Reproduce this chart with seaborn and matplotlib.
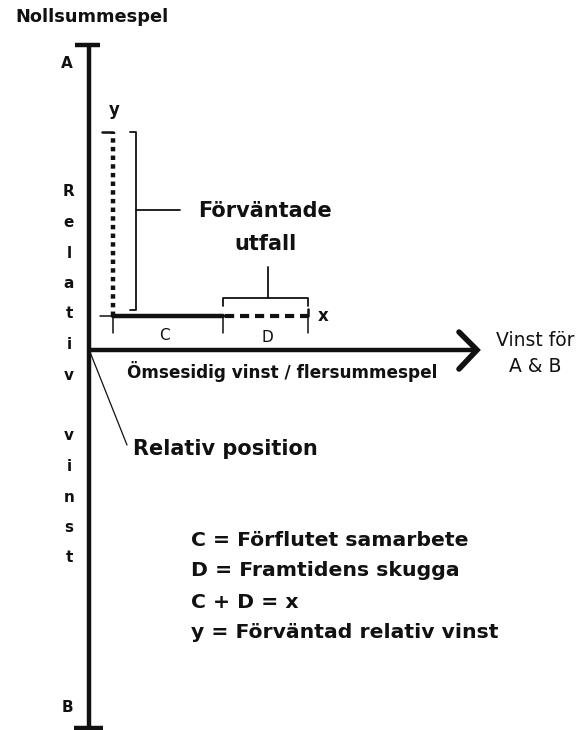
import matplotlib
matplotlib.use("Agg")
import matplotlib.pyplot as plt
import seaborn as sns

sns.set_theme(style="white")
plt.rcParams['font.family'] = ['DejaVu Sans']

# Geometri i bildpunkter (origo uppe till vänster)
origo = (89, 350)
axel_topp, axel_botten = 45, 729
pil_slut = 477
c_start, c_slut, d_slut = 113, 223, 308
xlinje_y = 316
y_topp = 132

# Texter
axel_etikett = "Relativ vinst"
legend_rader = ["C = Förflutet samarbete",
                "D = Framtidens skugga",
                "C + D = x",
                "y = Förväntad relativ vinst"]

fig = plt.figure(figsize=(5.82, 7.30), dpi=100)
ax = fig.add_axes([0, 0, 1, 1])
ax.set_xlim(0, 582)
ax.set_ylim(730, 0)
ax.axis("off")

svart = "#111111"
tjock = 3.2
tunn = 1.1

# vertikal axel med ändstreck
ax.plot([origo[0], origo[0]], [axel_topp, axel_botten], color=svart, lw=tjock, solid_capstyle="butt")
ax.plot([75, 100], [axel_topp, axel_topp], color=svart, lw=tjock, solid_capstyle="butt")
ax.plot([74, 103], [axel_botten - 1, axel_botten - 1], color=svart, lw=tjock, solid_capstyle="butt")

# horisontell pil
ax.plot([origo[0], pil_slut - 2], [origo[1], origo[1]], color=svart, lw=tjock, solid_capstyle="butt")
ax.plot([459, pil_slut, 459], [332, origo[1], 369], color=svart, lw=4, solid_joinstyle="miter")

# C (heldragen) och D (streckad)
sns.lineplot(x=[c_start, c_slut], y=[xlinje_y, xlinje_y], ax=ax, color=svart, lw=tjock,
             estimator=None, sort=False)
ax.plot([c_slut + 2, d_slut], [xlinje_y, xlinje_y], color=svart, lw=3,
        linestyle=(0, (2.2, 1.4)), solid_capstyle="butt")
ax.plot([100, c_start], [xlinje_y, xlinje_y], color=svart, lw=tunn)

# y (prickad)
ax.plot([c_start, c_start], [xlinje_y, y_topp], color=svart, lw=3.2, linestyle=(0, (1, 0.95)))
ax.plot([102, c_start], [y_topp, y_topp], color=svart, lw=1.8)

# streck under C och D
for xv in [c_start, c_slut, d_slut]:
    ax.plot([xv, xv], [xlinje_y, 333], color=svart, lw=tunn)
ax.plot([d_slut, d_slut], [xlinje_y - 7, xlinje_y], color=svart, lw=1.8)

# klammer för y
ax.plot([130, 136, 136, 130], [y_topp, y_topp, 310, 310], color=svart, lw=1.3)
ax.plot([136, 180], [210, 210], color=svart, lw=1.3)

# klammer för D
ax.plot([c_slut, c_slut, d_slut, d_slut], [306, 298, 298, 306], color=svart, lw=1.3)
ax.plot([268, 268], [298, 267], color=svart, lw=1.3)

# pekare till relativ position
ax.plot([origo[0] + 1, 127], [origo[1] + 2, 445], color=svart, lw=0.9)

bold = dict(color=svart, fontweight="bold")
ax.text(15, 17, "Nollsummespel", fontsize=12.8, ha="left", va="center", **bold)
ax.text(67, 63, "A", fontsize=11, ha="center", va="center", **bold)
ax.text(67, 707, "B", fontsize=11, ha="center", va="center", **bold)

# vertikal etikett, en bokstav per rad
for i, ch in enumerate(axel_etikett):
    if ch != " ":
        ax.text(69, 192 + 30.5 * i, ch, fontsize=11, ha="center", va="center", **bold)

ax.text(114, 110, "y", fontsize=12, ha="center", va="center", **bold)
ax.text(265, 211, "Förväntade", fontsize=15, ha="center", va="center", **bold)
ax.text(265, 244, "utfall", fontsize=15, ha="center", va="center", **bold)
ax.text(318, 316, "x", fontsize=12, ha="left", va="center", **bold)
ax.text(164, 335, "C", fontsize=11, ha="center", va="center", color=svart)
ax.text(267, 337, "D", fontsize=11, ha="center", va="center", color=svart)
ax.text(282, 372, "Ömsesidig vinst / flersummespel", fontsize=12.2, ha="center", va="center", **bold)
ax.text(535, 340, "Vinst för", fontsize=13.5, ha="center", va="center", color=svart)
ax.text(535, 367, "A & B", fontsize=13.5, ha="center", va="center", color=svart)
ax.text(133, 449, "Relativ position", fontsize=15, ha="left", va="center", **bold)

for i, rad in enumerate(legend_rader):
    ax.text(191, 540 + 31 * i, rad, fontsize=14.7, ha="left", va="center", **bold)

fig.savefig("out.png", dpi=100, facecolor="white")
